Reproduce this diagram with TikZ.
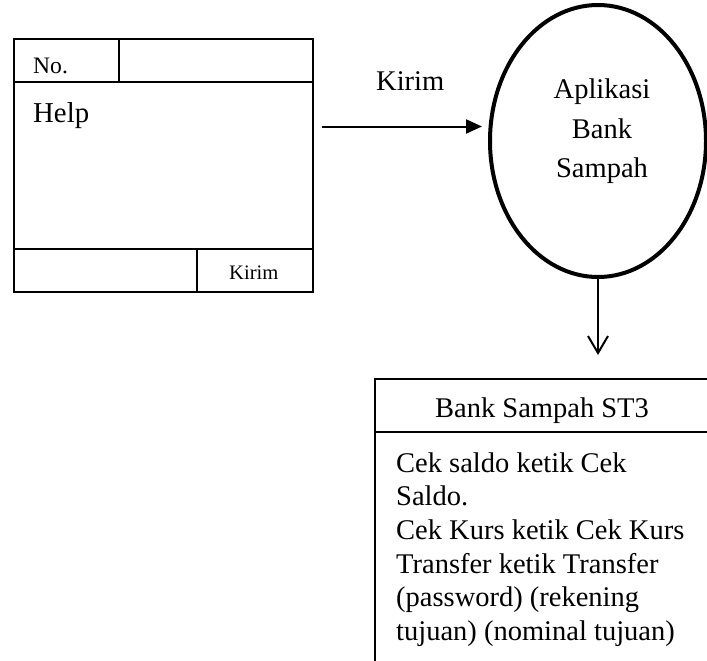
\documentclass[tikz,border=0pt]{standalone}
\usepackage{fontspec}
\setmainfont{Liberation Serif}
\usetikzlibrary{shapes.geometric,arrows.meta}
\begin{document}
\begin{tikzpicture}[x=1pt,y=-1pt]
\tikzset{
  frm/.style={draw, line width=1.6pt},
  lbl/.style={inner sep=0pt, anchor=base west},
  ctr/.style={inner sep=0pt, anchor=base},
  big/.style={font=\fontsize{28.5}{33.7}\selectfont},
  conn/.style={line width=2pt},
}
\clip (0,0) rectangle (707,661);
\fill[white] (0,0) rectangle (707,661);
% left form
\node[frm, minimum width=299pt, minimum height=253pt, inner sep=0pt, outer sep=0pt, anchor=north west] (form) at (14,39) {};
\draw[frm] (14,82) -- (313,82);
\draw[frm] (119,39) -- (119,82);
\draw[frm] (14,249) -- (313,249);
\draw[frm] (197,249) -- (197,292);
\node[lbl, font=\fontsize{23.6}{28}\selectfont] (no) at (33,73.5) {No.};
\node[lbl, font=\fontsize{28.8}{34}\selectfont] (help) at (33,122) {Help};
\node[lbl, font=\fontsize{20.6}{24}\selectfont] (kirimbtn) at (229,279.5) {Kirim};
% process ellipse
\node[draw, ellipse, line width=4pt, minimum width=216pt, minimum height=272pt, inner sep=0pt] (app) at (598,141) {};
\node[ctr, big] (app1) at (602,98.5) {Aplikasi};
\node[ctr, big] (app2) at (602,138) {Bank};
\node[ctr, big] (app3) at (602,177) {Sampah};
% arrow form -> app
\coordinate (a1) at (322,126.5);
\draw[conn, shorten >=6pt, -{Triangle[length=16pt,width=14pt]}] (a1) -- (a1 -| app.west);
\node[lbl, big] (kirimlbl) at (376,90.6) {Kirim};
% output box
\node[draw, line width=2pt, minimum width=336pt, minimum height=400pt, inner sep=0pt, anchor=north west] (bs) at (374,378) {};
\draw[line width=2pt] (374,432) -- (712,432);
\node[ctr, big] (bshead) at (542,417) {Bank Sampah ST3};
\node[lbl, big] (l1) at (396,472) {Cek saldo ketik Cek};
\node[lbl, big] (l2) at (396,505.7) {Saldo.};
\node[lbl, big] (l3) at (396,539.4) {Cek Kurs ketik Cek Kurs};
\node[lbl, big] (l4) at (396,573.1) {Transfer ketik Transfer};
\node[lbl, big] (l5) at (396,606.8) {(password) (rekening};
\node[lbl, big] (l6) at (396,640.5) {tujuan) (nominal tujuan)};
% arrow app -> box
\draw[conn, shorten >=23pt, -{Straight Barb[length=17pt,width=20pt,line width=2pt]}] (app.south) -- (app.south |- bs.north);
\end{tikzpicture}
\end{document}
